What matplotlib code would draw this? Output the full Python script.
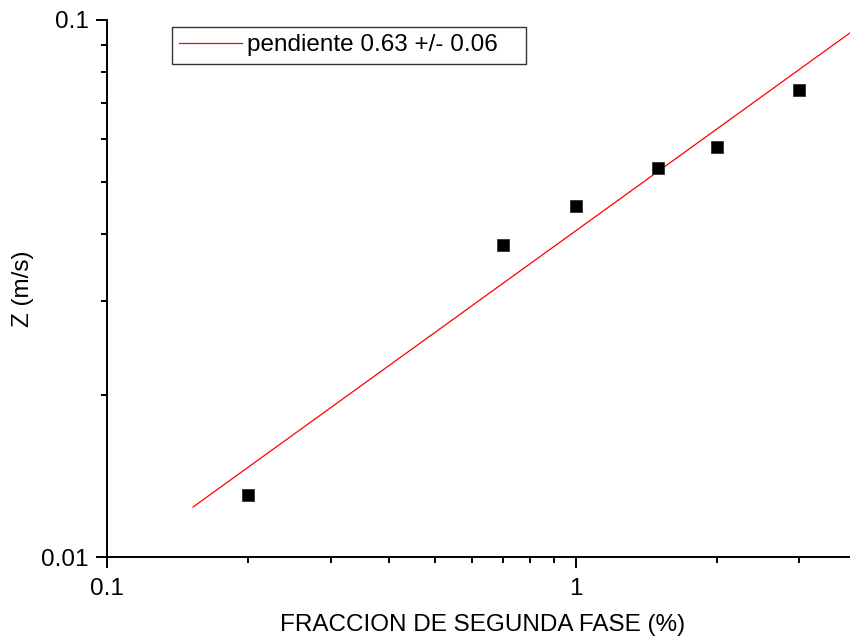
import matplotlib
matplotlib.use("Agg")
import matplotlib.pyplot as plt
import numpy as np
from matplotlib.ticker import FixedLocator, FixedFormatter, LogLocator, NullFormatter

plt.rcParams['font.family'] = ['Liberation Sans', 'DejaVu Sans']

# Measured points
fraccion = [0.2, 0.7, 1.0, 1.5, 2.0, 3.0]
z_vel = [0.01304, 0.0381, 0.0450, 0.0530, 0.0580, 0.0741]

# Power-law fit  Z = A * x^m
pendiente = 0.63
error = 0.06
amplitud = 0.0405
fit_range = [0.1526, 4.0]

FS = 17.5

W, H = 850, 639
fig = plt.figure(figsize=(W / 100, H / 100), dpi=100)
left, right, top, bottom = 107, 858, 20, 557
ax = fig.add_axes([left / W, 1 - bottom / H, (right - left) / W, (bottom - top) / H])

xf = np.array(fit_range)
ax.plot(xf, amplitud * xf ** pendiente, color='red', lw=0.9,
        label=f'pendiente {pendiente:.2f} +/- {error:.2f}   ')
ax.plot(fraccion, z_vel, 's', color='black', ms=8.6, mec='#222222', mew=0.5,
        linestyle='none')

ax.set_xscale('log')
ax.set_yscale('log')
ax.set_xlim(0.1, 4.0)
ax.set_ylim(0.01, 0.1)

ax.spines['top'].set_visible(False)
ax.spines['right'].set_visible(False)
for s in ('left', 'bottom'):
    ax.spines[s].set_linewidth(1.4)
    ax.spines[s].set_clip_on(False)

ax.xaxis.set_major_locator(FixedLocator([0.1, 1]))
ax.xaxis.set_major_formatter(FixedFormatter(['0.1', '1']))
ax.xaxis.set_minor_locator(LogLocator(base=10, subs=np.arange(2, 10)))
ax.xaxis.set_minor_formatter(NullFormatter())
ax.yaxis.set_major_locator(FixedLocator([0.01, 0.1]))
ax.yaxis.set_major_formatter(FixedFormatter(['0.01', '0.1']))
ax.yaxis.set_minor_locator(LogLocator(base=10, subs=np.arange(2, 10)))
ax.yaxis.set_minor_formatter(NullFormatter())

ax.tick_params(which='major', direction='out', length=8, width=1.4,
               labelsize=FS, colors='black')
ax.tick_params(which='minor', direction='out', length=4.5, width=1.4)
ax.tick_params(axis='x', which='major', pad=7)
ax.tick_params(axis='y', which='major', pad=5)

ax.set_xlabel('FRACCION DE SEGUNDA FASE (%)', fontsize=FS, labelpad=10)
ax.set_ylabel('Z (m/s)', fontsize=FS, labelpad=5)

leg = ax.legend(loc='upper left',
                bbox_to_anchor=((172 - left) / (right - left), 1 - (27 - top) / (bottom - top)),
                fontsize=FS, frameon=True, fancybox=False, borderpad=0.3,
                handlelength=2.6, handletextpad=0.2, borderaxespad=0)
leg.get_frame().set_edgecolor('black')
leg.get_frame().set_linewidth(1.0)

fig.savefig('out.png', dpi=100, facecolor='white')
